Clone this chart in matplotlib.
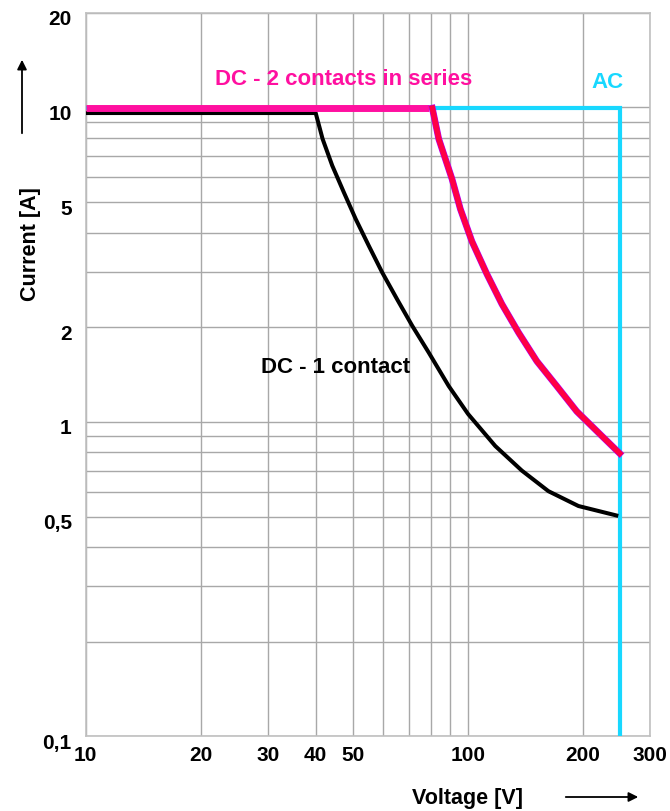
import matplotlib.pyplot as plt
from matplotlib.patches import FancyArrowPatch
from matplotlib.transforms import ScaledTranslation
from matplotlib.ticker import FixedLocator, NullFormatter

plt.rcParams['font.family'] = ['Liberation Sans', 'DejaVu Sans']
plt.rcParams['font.weight'] = 'bold'

# DC - 1 contact
dc1_v = [10, 40, 41.7, 44.2, 47.4, 50.9, 55.1, 59.7, 65.4, 71.6, 79.1, 89.2, 100.2,
         118.1, 138.6, 162.7, 195, 245]
dc1_i = [9.6, 9.6, 7.94, 6.53, 5.37, 4.42, 3.63, 2.99, 2.45, 2.02, 1.66, 1.30, 1.06,
         0.838, 0.70, 0.602, 0.540, 0.504]

# DC - 2 contacts in series
dc2_flat_v = [10, 79]
dc2_flat_i = [9.95, 9.95]
dc2_v = [80.8, 84, 91, 95.7, 102.6, 112.3, 122.9, 136, 151.7, 171.1, 193, 219.8, 250]
dc2_i = [9.95, 7.94, 5.92, 4.75, 3.75, 2.95, 2.37, 1.92, 1.56, 1.30, 1.08, 0.925, 0.794]

# AC
ac_v = [10, 250, 250]
ac_i = [9.95, 9.95, 0.1]

x_major = [10, 20, 30, 40, 50, 100, 200, 300]
x_labels = ['10', '20', '30', '40', '50', '100', '200', '300']
x_minor = [60, 70, 80, 90]
y_major = [0.1, 0.5, 1, 2, 5, 10, 20]
y_labels = ['0,1', '0,5', '1', '2', '5', '10', '20']
y_minor = [0.2, 0.3, 0.4, 0.6, 0.7, 0.8, 0.9, 3, 4, 6, 7, 8, 9]

fig = plt.figure(figsize=(6.70, 8.12), dpi=100)
ax = fig.add_axes([0.128, 0.092, 0.842, 0.891])
ax.set_xscale('log')
ax.set_yscale('log')
ax.set_xlim(10, 300)
ax.set_ylim(0.1, 20)

ax.xaxis.set_major_locator(FixedLocator(x_major))
ax.xaxis.set_minor_locator(FixedLocator(x_minor))
ax.set_xticklabels(x_labels)
ax.xaxis.set_minor_formatter(NullFormatter())
ax.yaxis.set_major_locator(FixedLocator(y_major))
ax.yaxis.set_minor_locator(FixedLocator(y_minor))
ax.set_yticklabels(y_labels)
ax.yaxis.set_minor_formatter(NullFormatter())
ax.tick_params(which='both', length=0)
ax.tick_params(axis='x', labelsize=15, pad=6)
ax.tick_params(axis='y', labelsize=15, pad=10)
shift = ScaledTranslation(0, -4 / 100, fig.dpi_scale_trans)
for lbl in ax.get_yticklabels():
    lbl.set_transform(lbl.get_transform() + shift)
ax.grid(True, which='both', color='#a8a8a8', lw=1)
for s in ax.spines.values():
    s.set_color('#c0c0c0')
    s.set_linewidth(1.2)

ax.plot(ac_v, ac_i, color='#18d8ff', lw=3.0, solid_joinstyle='miter', zorder=3)
ax.plot(dc1_v, dc1_i, color='black', lw=2.9, solid_joinstyle='round', zorder=4)
ax.plot(dc2_flat_v, dc2_flat_i, color='#ff10a0', lw=5.0, solid_capstyle='butt', zorder=5)
ax.plot(dc2_v, dc2_i, color='#b000ff', lw=4.8, solid_joinstyle='round', zorder=5)
ax.plot(dc2_v, dc2_i, color='#ff0044', lw=4.0, solid_joinstyle='round', zorder=6)

ax.text(47.2, 12.4, 'DC - 2 contacts in series', color='#ff10a0', fontsize=16,
        fontweight='bold', ha='center', va='center')
ax.text(233, 12.1, 'AC', color='#18d8ff', fontsize=16, fontweight='bold',
        ha='center', va='center')
ax.text(45, 1.50, 'DC - 1 contact', color='black', fontsize=16, fontweight='bold',
        ha='center', va='center')

fig.text(0.045, 0.70, 'Current [A]', rotation=90, fontsize=15.5, fontweight='bold',
         ha='center', va='center')
fig.text(0.698, 0.017, 'Voltage [V]', fontsize=15.5, fontweight='bold',
         ha='center', va='center')
fig.add_artist(FancyArrowPatch(
    (22 / 670, 1 - 137 / 812), (22 / 670, 1 - 58 / 812), transform=fig.transFigure,
    arrowstyle='-|>', mutation_scale=14, color='black', lw=1.3))
fig.add_artist(FancyArrowPatch(
    (563 / 670, 1 - 798 / 812), (641 / 670, 1 - 798 / 812), transform=fig.transFigure,
    arrowstyle='-|>', mutation_scale=14, color='black', lw=1.3))

fig.savefig('out.png', dpi=100)
